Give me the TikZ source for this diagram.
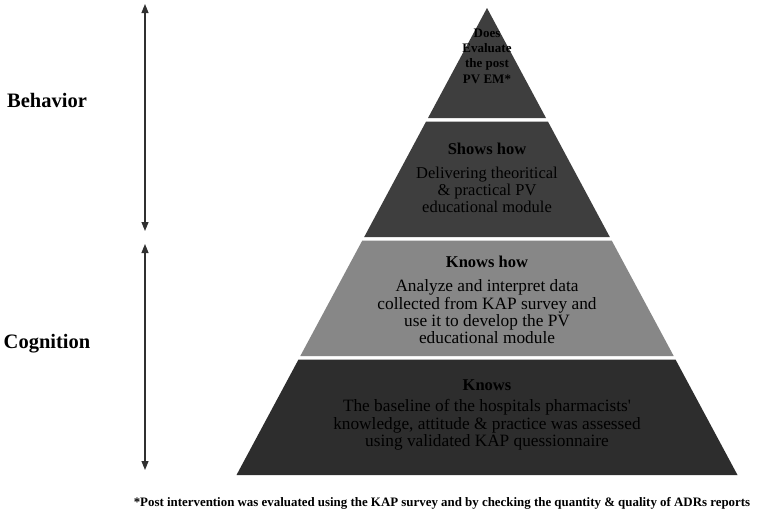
\documentclass[tikz,border=0pt]{standalone}
\usepackage{fontspec}
\setmainfont{Liberation Serif}
\usetikzlibrary{arrows.meta}
\definecolor{darkA}{HTML}{3E3E3E}
\definecolor{midB}{HTML}{878787}
\definecolor{darkC}{HTML}{2D2D2D}
\definecolor{arrowgray}{HTML}{303030}
\tikzset{
  layer/.style={draw=none},
  laytext/.style={align=center, text=black, inner sep=0pt, font=\fontsize{16.5}{17.3}\selectfont},
  bigtext/.style={laytext, font=\fontsize{17.3}{17.3}\selectfont},
  headtext/.style={laytext, font=\fontsize{16.5}{17.3}\selectfont\bfseries},
  sidelabel/.style={font=\fontsize{20.5}{24}\selectfont\bfseries, inner sep=0pt},
  axisarrow/.style={arrowgray, line width=1.1pt, {Triangle[width=7pt,length=9pt]}-{Triangle[width=7pt,length=9pt]}}
}
\begin{document}
\begin{tikzpicture}[x=1pt,y=-1pt]
\useasboundingbox[fill=white] (0,0) rectangle (757,514);
% pyramid layers
\fill[darkA] (487,8) -- (546.0,118) -- (428.0,118) -- cycle;
\fill[darkA] (426.1,121.5) -- (547.9,121.5) -- (609.8,237) -- (364.2,237) -- cycle;
\fill[midB] (362.3,240.5) -- (611.7,240.5) -- (673.7,356) -- (300.3,356) -- cycle;
\fill[darkC] (298.5,359.5) -- (675.5,359.5) -- (737.5,475) -- (236.5,475) -- cycle;
% texts
\node[laytext, font=\fontsize{13}{15.3}\selectfont\bfseries] (does) at (487,56) {Does\\Evaluate\\the post\\PV EM*};
\node[headtext] (showsT) at (487,149) {Shows how};
\node[laytext] (shows) at (487,190) {Delivering theoritical\\\& practical PV\\educational module};
\node[headtext] (khowT) at (487,262) {Knows how};
\node[bigtext] (khow) at (487,312) {Analyze and interpret data\\collected from KAP survey and\\use it to develop the PV\\educational module};
\node[headtext] (knowsT) at (487,385) {Knows};
\node[bigtext] (knows) at (487,425) {The baseline of the hospitals pharmacists\textquotesingle\\knowledge, attitude \& practice was assessed\\using validated KAP quessionnaire};
% side labels
\node[sidelabel] (beh) at (47,100) {Behavior};
\node[sidelabel] (cog) at (47,344) {Cognition};
% arrows
\coordinate (a1) at (145,4);
\coordinate (a2) at (145,231);
\coordinate (b1) at (145,244);
\coordinate (b2) at (145,470);
\draw[axisarrow] (a1) -- (a2);
\draw[axisarrow] (b1) -- (b2);
% footnote
\node[font=\fontsize{12.9}{14}\selectfont\bfseries, inner sep=0pt] (foot) at (442,503) {*Post intervention was evaluated using the KAP survey and by checking the quantity \& quality of ADRs reports};
\end{tikzpicture}
\end{document}
